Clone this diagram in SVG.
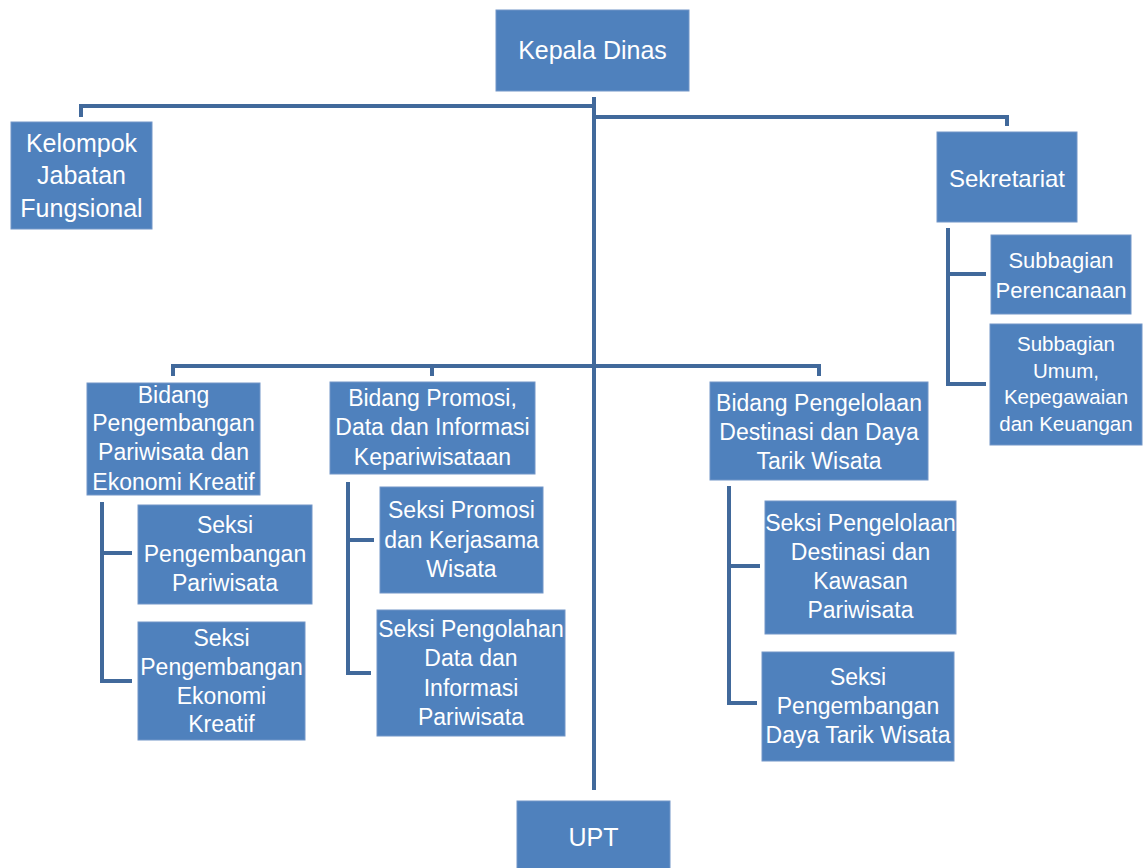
<svg xmlns="http://www.w3.org/2000/svg" width="1147" height="868" viewBox="0 0 1147 868">
<style>
.box{fill:#4F81BD;stroke:#7396C8;stroke-width:1}
.t{fill:#FFFFFF;font-family:"Liberation Sans",Arial,sans-serif;text-anchor:middle}
.l{fill:none;stroke:#41699B;stroke-width:4;stroke-linejoin:miter}
</style>
<rect width="1147" height="868" fill="#FFFFFF"/>
<g id="connectors">
<path class="l" d="M594,97 V790"/>
<path class="l" d="M81,117 V106 H594"/>
<path class="l" d="M594,117 H1007 V126"/>
<path class="l" d="M173,376 V366 H819 V376"/>
<path class="l" d="M432,366 V376"/>
<path class="l" d="M948,228 V384 H986 M948,274 H986"/>
<path class="l" d="M102,502 V681 H132 M102,553 H132"/>
<path class="l" d="M348,482 V673 H371 M348,540 H374"/>
<path class="l" d="M729,486 V703 H757 M729,566 H760"/>
</g>
<g id="kepala-dinas"><rect class="box" x="496" y="10" width="193" height="81"/><text class="t" font-size="25" x="592.5" y="59">Kepala Dinas</text></g>
<g id="kelompok"><rect class="box" x="11" y="122" width="141" height="107"/><text class="t" font-size="25" x="81.5"><tspan x="81.5" y="152">Kelompok</tspan><tspan x="81.5" y="184">Jabatan</tspan><tspan x="81.5" y="217">Fungsional</tspan></text></g>
<g id="sekretariat"><rect class="box" x="937" y="132" width="140" height="90"/><text class="t" font-size="24" x="1007" y="187">Sekretariat</text></g>
<g id="subbagian-perencanaan"><rect class="box" x="991" y="235" width="140" height="79"/><text class="t" font-size="22"><tspan x="1061" y="268">Subbagian</tspan><tspan x="1061" y="298">Perencanaan</tspan></text></g>
<g id="subbagian-umum"><rect class="box" x="990" y="324" width="152" height="121"/><text class="t" font-size="20.5"><tspan x="1066" y="351">Subbagian</tspan><tspan x="1066" y="378">Umum,</tspan><tspan x="1066" y="404">Kepegawaian</tspan><tspan x="1066" y="431">dan Keuangan</tspan></text></g>
<g id="bidang-pengembangan"><rect class="box" x="87" y="383" width="173" height="112"/><text class="t" font-size="23"><tspan x="173.5" y="403">Bidang</tspan><tspan x="173.5" y="431">Pengembangan</tspan><tspan x="173.5" y="460">Pariwisata dan</tspan><tspan x="173.5" y="490">Ekonomi Kreatif</tspan></text></g>
<g id="bidang-promosi"><rect class="box" x="330" y="382" width="205" height="92"/><text class="t" font-size="23"><tspan x="432.5" y="406">Bidang Promosi,</tspan><tspan x="432.5" y="435">Data dan Informasi</tspan><tspan x="432.5" y="465">Kepariwisataan</tspan></text></g>
<g id="bidang-pengelolaan"><rect class="box" x="710" y="382" width="218" height="98"/><text class="t" font-size="23"><tspan x="819" y="411">Bidang Pengelolaan</tspan><tspan x="819" y="440">Destinasi dan Daya</tspan><tspan x="819" y="469">Tarik Wisata</tspan></text></g>
<g id="seksi-pengembangan-pariwisata"><rect class="box" x="138" y="505" width="174" height="99"/><text class="t" font-size="23"><tspan x="225" y="533">Seksi</tspan><tspan x="225" y="562">Pengembangan</tspan><tspan x="225" y="591">Pariwisata</tspan></text></g>
<g id="seksi-pengembangan-ekraf"><rect class="box" x="138" y="622" width="167" height="118"/><text class="t" font-size="23"><tspan x="221.5" y="646">Seksi</tspan><tspan x="221.5" y="675">Pengembangan</tspan><tspan x="221.5" y="704">Ekonomi</tspan><tspan x="221.5" y="732">Kreatif</tspan></text></g>
<g id="seksi-promosi"><rect class="box" x="380" y="487" width="163" height="106"/><text class="t" font-size="23"><tspan x="461.5" y="518">Seksi Promosi</tspan><tspan x="461.5" y="548">dan Kerjasama</tspan><tspan x="461.5" y="577">Wisata</tspan></text></g>
<g id="seksi-pengolahan"><rect class="box" x="377" y="610" width="188" height="126"/><text class="t" font-size="23"><tspan x="471" y="637">Seksi Pengolahan</tspan><tspan x="471" y="666">Data dan</tspan><tspan x="471" y="696">Informasi</tspan><tspan x="471" y="725">Pariwisata</tspan></text></g>
<g id="seksi-pengelolaan"><rect class="box" x="765" y="501" width="191" height="133"/><text class="t" font-size="23"><tspan x="860.5" y="531">Seksi Pengelolaan</tspan><tspan x="860.5" y="560">Destinasi dan</tspan><tspan x="860.5" y="589">Kawasan</tspan><tspan x="860.5" y="618">Pariwisata</tspan></text></g>
<g id="seksi-daya-tarik"><rect class="box" x="762" y="652" width="192" height="109"/><text class="t" font-size="23"><tspan x="858" y="685">Seksi</tspan><tspan x="858" y="714">Pengembangan</tspan><tspan x="858" y="743">Daya Tarik Wisata</tspan></text></g>
<g id="upt"><rect class="box" x="517" y="801" width="153" height="70"/><text class="t" font-size="25" x="593.5" y="846">UPT</text></g>
</svg>
